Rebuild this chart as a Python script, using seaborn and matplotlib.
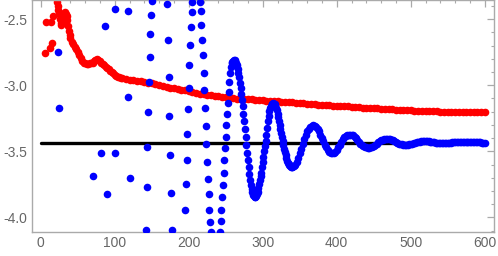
import numpy as np
import pandas as pd
import matplotlib
matplotlib.use("Agg")
import matplotlib.pyplot as plt
import seaborn as sns
from matplotlib.ticker import MultipleLocator

# 数据
# 红色点：前面散点 + 开头密集段
red_head_x = [6, 7, 13, 14, 15, 16,
              21, 22, 23, 24, 25, 26, 27, 28, 29, 30, 31, 32, 33, 34, 35, 36, 37, 38, 39, 40,
              42, 44, 46, 48, 50, 52, 54, 56, 58, 60, 62, 64, 66, 68, 70, 72, 74, 76, 78, 80,
              82, 84, 86, 88, 90, 92, 94, 96, 98, 100, 102, 104, 106, 108]
red_head_y = [-2.76, -2.525, -2.722, -2.525, -2.68, -2.477,
              -2.34, -2.37, -2.40, -2.43, -2.46, -2.50, -2.53, -2.545, -2.53, -2.50, -2.47, -2.455,
              -2.45, -2.46, -2.48, -2.51, -2.55, -2.59, -2.62, -2.645,
              -2.67, -2.69, -2.71, -2.73, -2.75, -2.77, -2.795, -2.815, -2.83, -2.835, -2.838,
              -2.838, -2.836, -2.834, -2.83, -2.82, -2.81, -2.805, -2.81, -2.82,
              -2.83, -2.84, -2.85, -2.86, -2.87, -2.88, -2.89, -2.90, -2.91, -2.92, -2.93,
              -2.935, -2.94, -2.945]
# 红色主段：x = 110, 115, ..., 600
red_main_y = [-2.947, -2.952, -2.957, -2.962, -2.967, -2.972, -2.977, -2.981, -2.985, -2.992,
              -2.999, -3.006, -3.012, -3.018, -3.024, -3.029, -3.035, -3.040, -3.046, -3.052,
              -3.058, -3.063, -3.068, -3.072, -3.076, -3.080, -3.084, -3.087, -3.092, -3.096,
              -3.099, -3.101, -3.103, -3.105, -3.107, -3.108, -3.110, -3.112, -3.114, -3.116,
              -3.118, -3.120, -3.122, -3.124, -3.126, -3.128, -3.130, -3.131, -3.134, -3.137,
              -3.140, -3.142, -3.144, -3.146, -3.148, -3.150, -3.152, -3.154, -3.156, -3.157,
              -3.159, -3.161, -3.163, -3.165, -3.167, -3.169, -3.170, -3.172, -3.174, -3.176,
              -3.178, -3.180, -3.182, -3.183, -3.184, -3.186, -3.188, -3.190, -3.191, -3.192,
              -3.193, -3.194, -3.195, -3.196, -3.197, -3.198, -3.199, -3.200, -3.200, -3.201,
              -3.201, -3.202, -3.202, -3.203, -3.203, -3.203, -3.203, -3.203, -3.203]

# 蓝色点：前面散落的点（大部分在图外）
blue_head_x = [24, 25, 70, 81, 87, 89, 100, 100, 118, 118, 120,
               142, 143, 144, 145, 146, 147, 148, 149, 150,
               171, 172, 173, 174, 175, 176, 177,
               195, 196, 197, 198, 199, 200, 201, 202, 203, 204, 205,
               215, 216, 217, 218, 219, 220, 221, 222, 223, 224, 225, 226, 227, 228, 229, 230]
blue_head_y = [-2.752, -3.172, -3.687, -3.51, -2.553, -3.82, -2.427, -3.51, -2.437, -3.089, -3.70,
               -4.093, -3.77, -3.467, -3.202, -2.975, -2.786, -2.616, -2.47, -2.36,
               -2.386, -2.659, -2.94, -3.235, -3.525, -3.813, -4.093,
               -3.94, -3.75, -3.563, -3.371, -3.18, -3.018, -2.848, -2.697, -2.563, -2.449, -2.369,
               -2.369, -2.44, -2.545, -2.659, -2.773, -2.907, -3.038, -3.172, -3.308, -3.447,
               -3.58, -3.707, -3.826, -3.94, -4.035, -4.11]
# 蓝色振荡段：x = 242, 243, ..., 340
blue_wave_y = [-4.11, -4.028, -3.94, -3.846, -3.758, -3.664, -3.568, -3.475, -3.392, -3.298,
               -3.214, -3.134, -3.05, -2.975, -2.91, -2.86, -2.835, -2.822, -2.815, -2.812,
               -2.812, -2.818, -2.83, -2.85, -2.875, -2.905, -2.94, -2.98, -3.02, -3.065,
               -3.11, -3.16, -3.215, -3.27, -3.33, -3.39, -3.45, -3.51, -3.565, -3.62,
               -3.67, -3.715, -3.755, -3.785, -3.81, -3.828, -3.84, -3.846, -3.845, -3.838,
               -3.825, -3.805, -3.78, -3.75, -3.72, -3.69, -3.66, -3.62, -3.58, -3.54,
               -3.50, -3.46, -3.42, -3.38, -3.32, -3.27, -3.23, -3.195, -3.17, -3.155,
               -3.145, -3.14, -3.138, -3.14, -3.145, -3.155, -3.17, -3.19, -3.215, -3.24,
               -3.27, -3.30, -3.33, -3.36, -3.39, -3.42, -3.45, -3.48, -3.505, -3.53,
               -3.55, -3.57, -3.585, -3.598, -3.607, -3.613, -3.617, -3.618, -3.617]
# 蓝色尾段：x = 342, 344, ..., 600
blue_tail_y = [-3.613, -3.60, -3.58, -3.55, -3.515, -3.48, -3.445, -3.41, -3.375, -3.35,
               -3.33, -3.315, -3.305, -3.302, -3.305, -3.315, -3.33, -3.35, -3.375, -3.40,
               -3.425, -3.45, -3.47, -3.49, -3.505, -3.512, -3.515, -3.513, -3.505, -3.49,
               -3.47, -3.45, -3.43, -3.41, -3.395, -3.385, -3.378, -3.375, -3.375, -3.377,
               -3.38, -3.39, -3.40, -3.415, -3.43, -3.445, -3.455, -3.462, -3.468, -3.47,
               -3.472, -3.472, -3.47, -3.468, -3.462, -3.453, -3.443, -3.433, -3.424, -3.417,
               -3.412, -3.408, -3.407, -3.407, -3.408, -3.41, -3.413, -3.418, -3.425, -3.432,
               -3.438, -3.443, -3.446, -3.448, -3.449, -3.45, -3.45, -3.449, -3.448, -3.446,
               -3.443, -3.44, -3.436, -3.432, -3.429, -3.427, -3.425, -3.424, -3.424, -3.424,
               -3.424, -3.425, -3.427, -3.429, -3.431, -3.433, -3.435, -3.437, -3.438, -3.439,
               -3.44, -3.44, -3.44, -3.44, -3.439, -3.437, -3.435, -3.433, -3.431, -3.43,
               -3.428, -3.427, -3.426, -3.426, -3.427, -3.427, -3.428, -3.429, -3.43, -3.432,
               -3.433, -3.432, -3.43, -3.429, -3.43, -3.432, -3.433, -3.434, -3.434, -3.434]

# 水平参考线
ref_level = -3.437
ref_x = [0, 600]

red_x = red_head_x + list(range(110, 601, 5))
red_y = red_head_y + red_main_y
blue_x = blue_head_x + list(range(242, 341)) + list(range(342, 601, 2))
blue_y = blue_head_y + blue_wave_y + blue_tail_y

df_red = pd.DataFrame({'x': red_x, 'y': red_y})
df_blue = pd.DataFrame({'x': blue_x, 'y': blue_y})
df_ref = pd.DataFrame({'x': ref_x, 'y': [ref_level, ref_level]})

# 绘图
sns.set_style("white")
plt.rcParams['font.family'] = ['Liberation Sans', 'DejaVu Sans']

fig = plt.figure(figsize=(4.98, 2.56), dpi=100)
ax = fig.add_axes([31.7 / 498, 1 - 231.5 / 256, (494 - 31.7) / 498, 231.5 / 256])

sns.lineplot(data=df_ref, x='x', y='y', color='black', linewidth=2.4, ax=ax, zorder=1)
sns.scatterplot(data=df_red, x='x', y='y', color='#ff0000', s=30, linewidth=0, ax=ax, zorder=2)
sns.scatterplot(data=df_blue, x='x', y='y', color='#0000ff', s=30, linewidth=0, ax=ax, zorder=3)

ax.set_xlim(-12.2, 612.5)
ax.set_ylim(-4.106, -2.356)
ax.set_xlabel('')
ax.set_ylabel('')

ax.xaxis.set_major_locator(MultipleLocator(100))
ax.xaxis.set_minor_locator(MultipleLocator(20))
ax.yaxis.set_major_locator(MultipleLocator(0.5))
ax.yaxis.set_minor_locator(MultipleLocator(0.1))
ax.set_yticklabels(['%.1f' % v for v in ax.get_yticks()])

for sp in ax.spines.values():
    sp.set_color('#aaaaaa')
    sp.set_linewidth(1.0)
ax.tick_params(which='both', direction='in', top=True, right=True, color='#aaaaaa',
               labelcolor='#666666', labelsize=10)
ax.tick_params(which='major', length=5, width=0.9, pad=3)
ax.tick_params(which='minor', length=2.5, width=0.8)

fig.savefig('out.png', dpi=100)
